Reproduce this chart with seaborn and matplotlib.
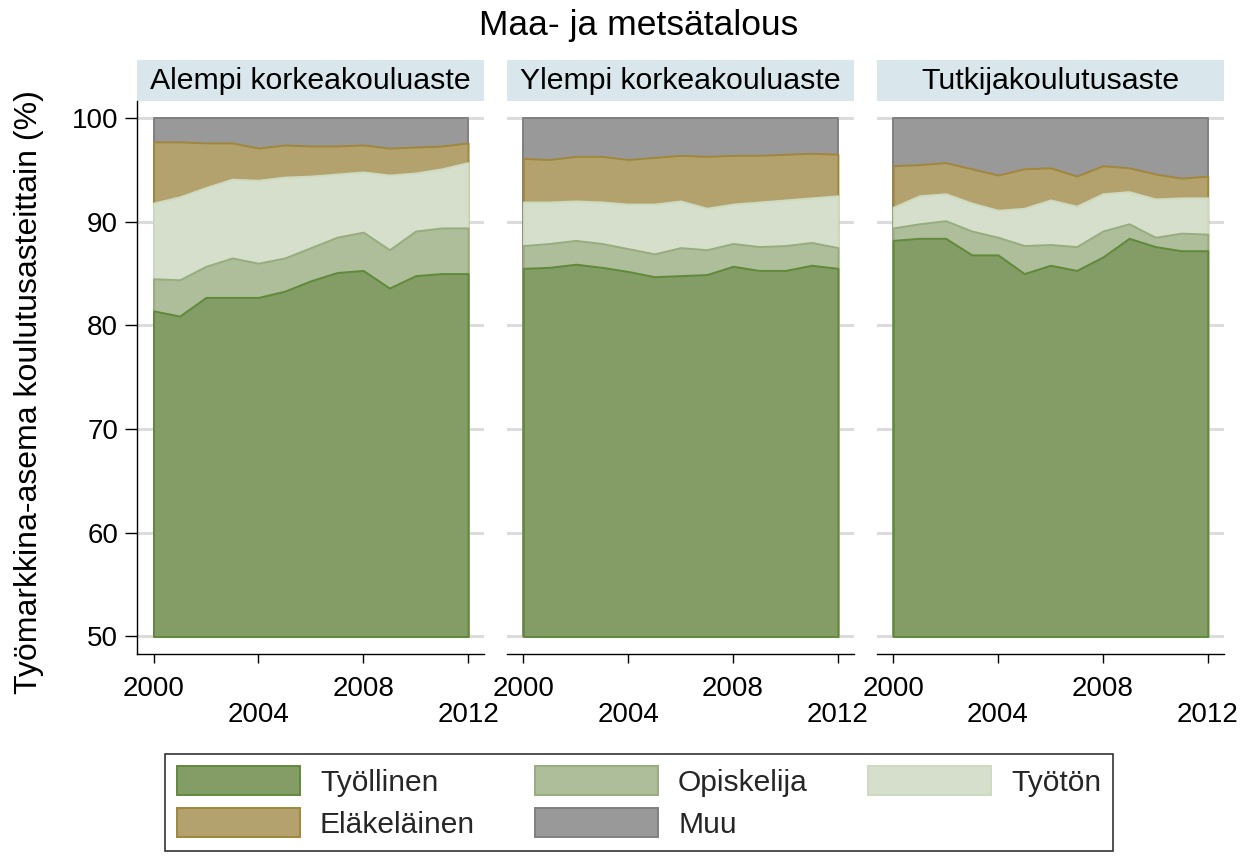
import pandas as pd
import matplotlib.pyplot as plt
from matplotlib.patches import Patch, Rectangle
import seaborn as sns

years = list(range(2000, 2013))
levels = ["Alempi korkeakouluaste", "Ylempi korkeakouluaste", "Tutkijakoulutusaste"]
statuses = ["Työllinen", "Opiskelija", "Työtön", "Eläkeläinen", "Muu"]

# osuudet (%) vuosittain 2000-2012, luettu kuvasta
alempi_tyollinen = [81.4, 80.9, 82.7, 82.7, 82.7, 83.3, 84.3, 85.1, 85.3, 83.6, 84.8, 85.0, 85.0]
alempi_opiskelija = [3.1, 3.5, 3.0, 3.8, 3.3, 3.2, 3.2, 3.4, 3.7, 3.7, 4.3, 4.4, 4.4]
alempi_tyoton = [7.3, 8.0, 7.6, 7.6, 8.0, 7.8, 6.9, 6.1, 5.8, 7.2, 5.6, 5.7, 6.3]
alempi_elakelainen = [5.9, 5.3, 4.3, 3.5, 3.1, 3.1, 2.9, 2.7, 2.6, 2.6, 2.5, 2.2, 1.9]
alempi_muu = [2.3, 2.3, 2.4, 2.4, 2.9, 2.6, 2.7, 2.7, 2.6, 2.9, 2.8, 2.7, 2.4]

ylempi_tyollinen = [85.5, 85.6, 85.9, 85.6, 85.2, 84.7, 84.8, 84.9, 85.7, 85.3, 85.3, 85.8, 85.5]
ylempi_opiskelija = [2.2, 2.3, 2.3, 2.3, 2.2, 2.2, 2.7, 2.4, 2.2, 2.3, 2.4, 2.2, 2.0]
ylempi_tyoton = [4.2, 4.0, 3.8, 4.0, 4.3, 4.8, 4.5, 4.0, 3.8, 4.3, 4.4, 4.3, 5.0]
ylempi_elakelainen = [4.2, 4.1, 4.3, 4.4, 4.3, 4.5, 4.4, 5.0, 4.7, 4.5, 4.4, 4.3, 4.0]
ylempi_muu = [3.9, 4.0, 3.7, 3.7, 4.0, 3.8, 3.6, 3.7, 3.6, 3.6, 3.5, 3.4, 3.5]

tutkija_tyollinen = [88.2, 88.4, 88.4, 86.8, 86.8, 85.0, 85.8, 85.3, 86.6, 88.4, 87.6, 87.2, 87.2]
tutkija_opiskelija = [1.2, 1.4, 1.7, 2.3, 1.7, 2.7, 2.0, 2.3, 2.5, 1.4, 0.9, 1.7, 1.6]
tutkija_tyoton = [2.0, 2.7, 2.6, 2.7, 2.6, 3.6, 4.3, 3.9, 3.6, 3.1, 3.7, 3.4, 3.5]
tutkija_elakelainen = [4.0, 3.0, 3.0, 3.3, 3.4, 3.8, 3.1, 2.9, 2.7, 2.3, 2.4, 1.9, 2.1]
tutkija_muu = [4.6, 4.5, 4.3, 4.9, 5.5, 4.9, 4.8, 5.6, 4.6, 4.8, 5.4, 5.8, 5.6]

series = {
    levels[0]: [alempi_tyollinen, alempi_opiskelija, alempi_tyoton, alempi_elakelainen, alempi_muu],
    levels[1]: [ylempi_tyollinen, ylempi_opiskelija, ylempi_tyoton, ylempi_elakelainen, ylempi_muu],
    levels[2]: [tutkija_tyollinen, tutkija_opiskelija, tutkija_tyoton, tutkija_elakelainen, tutkija_muu],
}

fills = {"Työllinen": "#849c66", "Opiskelija": "#aebd9a", "Työtön": "#d6dfcb",
         "Eläkeläinen": "#b3a26d", "Muu": "#999999"}
edges = {"Työllinen": "#5f8a3a", "Opiskelija": "#97ad7e", "Työtön": "#cddabf",
         "Eläkeläinen": "#a0873c", "Muu": "#808080"}

rows = []
for level in levels:
    for status, vals in zip(statuses, series[level]):
        for year, v in zip(years, vals):
            rows.append({"level": level, "status": status, "year": year, "share": v})
df = pd.DataFrame(rows)
df["status"] = pd.Categorical(df["status"], categories=statuses, ordered=True)
df = df.sort_values(["level", "year", "status"])
df["top"] = df.groupby(["level", "year"], observed=True)["share"].cumsum()

sns.set_style("white")
plt.rcParams["font.family"] = ["Liberation Sans", "DejaVu Sans"]


def draw_stack(data, **kws):
    ax = plt.gca()
    # Stata-tyylinen pinoaminen: jokainen alue 50:stä kumulatiiviseen ylärajaan
    for status in reversed(statuses):
        d = data[data["status"] == status].sort_values("year")
        ax.fill_between(d["year"], 50, d["top"], facecolor=fills[status],
                        edgecolor=edges[status], linewidth=1.4, zorder=2)


g = sns.FacetGrid(df, col="level", col_order=levels, sharex=True, sharey=True, height=5, aspect=0.7)
g.map_dataframe(draw_stack)
g.set_titles(col_template="")
fig = g.figure
fig.set_size_inches(12.42, 8.59)
fig.subplots_adjust(left=137 / 1242, right=1224 / 1242, bottom=1 - 654 / 859,
                    top=1 - 101 / 859, wspace=0.0648)

for i, (ax, level) in enumerate(zip(g.axes.flat, levels)):
    ax.set_xlim(1999.37, 2012.62)
    ax.set_ylim(48.31, 101.64)
    ax.set_yticks([50, 60, 70, 80, 90, 100])
    # vuorottelevat vuosiluvut kahdella rivillä
    ax.set_xticks([2000, 2008])
    ax.set_xticklabels(["2000", "2008"])
    ax.set_xticks([2004, 2012], minor=True)
    ax.set_xticklabels(["2004", "2012"], minor=True)
    ax.set_axisbelow(True)
    ax.grid(axis="y", color="#dcdcdc", linewidth=2.2)
    ax.grid(axis="x", visible=False)
    ax.set_xlabel("")
    ax.set_ylabel("")
    ax.spines["bottom"].set_color("black")
    ax.spines["bottom"].set_linewidth(1.0)
    ax.tick_params(axis="x", which="major", direction="out", bottom=True, length=6.5,
                   width=1, pad=9, labelsize=20, colors="black")
    ax.tick_params(axis="x", which="minor", direction="out", bottom=True, length=6.5,
                   width=1, pad=28, labelsize=20, colors="black")
    if i == 0:
        ax.spines["left"].set_color("black")
        ax.spines["left"].set_linewidth(1.0)
        ax.tick_params(axis="y", direction="out", left=True, length=8.6, width=1,
                       pad=5, labelsize=20, colors="black")
    else:
        ax.spines["left"].set_visible(False)
        ax.tick_params(axis="y", left=False, labelleft=False)
    # otsikkopalkki
    ax.add_patch(Rectangle((0, 1.0), 1, 0.074, transform=ax.transAxes,
                           facecolor="#d9e6eb", edgecolor="none", clip_on=False))
    ax.text(0.5, 1.0217, level, transform=ax.transAxes, ha="center", va="baseline",
            fontsize=21.8, color="black")

fig.text(0.514, 1 - 35 / 859, "Maa- ja metsätalous", ha="center", va="baseline",
         fontsize=25.5, color="black")
fig.text(0.023, 1 - 392 / 859, "Työmarkkina-asema koulutusasteittain (%)", rotation=90,
         ha="center", va="center", fontsize=23, color="black")

legend_order = ["Työllinen", "Eläkeläinen", "Opiskelija", "Muu", "Työtön"]
handles = [Patch(facecolor=fills[s], edgecolor=edges[s], linewidth=1.4) for s in legend_order]
leg = fig.legend(handles, legend_order, ncol=3, loc="upper center",
                 bbox_to_anchor=(0.5145, 1 - 754 / 859), fontsize=21.6,
                 frameon=True, fancybox=False, shadow=False, edgecolor="black",
                 handlelength=4.1, handleheight=1.13, handletextpad=0.67,
                 columnspacing=2.0, labelspacing=0.37, borderpad=0.4,
                 borderaxespad=0)
leg.get_frame().set_linewidth(1.2)

fig.savefig("out.png", dpi=100)
